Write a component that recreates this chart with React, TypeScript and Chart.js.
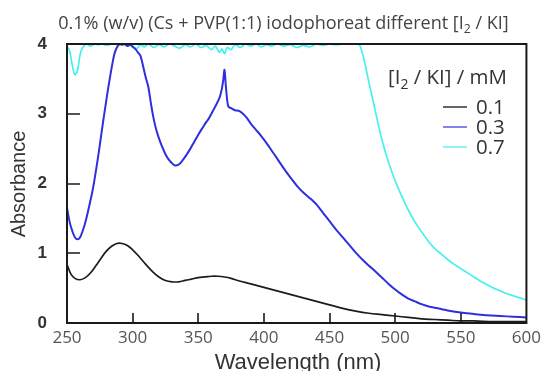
import React, { useEffect, useRef } from "react";
import { Chart, registerables } from "chart.js";
Chart.register(...registerables);

// ---- data ----
const blackWl = [250, 253, 256, 260, 264, 268, 272, 276, 280, 284, 288, 292, 296, 300, 305, 310, 315, 320, 325, 330, 335, 340, 345, 350, 355, 360, 365, 370, 375, 380, 390, 400, 410, 420, 430, 440, 450, 460, 470, 480, 490, 500, 510, 520, 530, 540, 550, 560, 575, 600];
const blackAbs = [0.84, 0.7, 0.64, 0.62, 0.65, 0.72, 0.82, 0.93, 1.03, 1.1, 1.14, 1.14, 1.11, 1.05, 0.95, 0.84, 0.74, 0.66, 0.61, 0.59, 0.59, 0.61, 0.63, 0.65, 0.66, 0.67, 0.67, 0.66, 0.64, 0.61, 0.56, 0.51, 0.46, 0.41, 0.36, 0.31, 0.26, 0.21, 0.17, 0.14, 0.12, 0.1, 0.08, 0.06, 0.05, 0.04, 0.03, 0.03, 0.02, 0.02];

const blueWl = [250, 252, 254, 256, 258, 260, 263, 266, 270, 274, 277, 280, 283, 286, 288, 290, 292, 294, 296, 298, 300, 302, 304, 306, 308, 310, 312, 314, 316, 318, 320, 322, 325, 328, 332, 335, 338, 341, 344, 347, 350, 353, 356, 358, 360, 362, 364, 366, 367, 368, 369, 370, 371, 372, 373, 375, 378, 381, 384, 387, 390, 394, 398, 402, 406, 410, 415, 420, 425, 430, 435, 440, 445, 450, 455, 460, 465, 470, 475, 480, 485, 490, 495, 500, 505, 510, 515, 520, 525, 530, 535, 540, 550, 560, 570, 580, 590, 600];
const blueAbs = [1.65, 1.45, 1.32, 1.23, 1.2, 1.23, 1.38, 1.6, 1.95, 2.42, 2.82, 3.2, 3.55, 3.85, 3.95, 4.0, 3.99, 4.0, 3.97, 3.99, 3.96, 3.93, 3.88, 3.83, 3.68, 3.52, 3.38, 3.14, 2.93, 2.77, 2.65, 2.55, 2.42, 2.33, 2.26, 2.27, 2.33, 2.41, 2.5, 2.6, 2.7, 2.79, 2.88, 2.93, 3.0, 3.07, 3.14, 3.22, 3.28, 3.36, 3.48, 3.63, 3.4, 3.2, 3.1, 3.08, 3.05, 3.04, 3.0, 2.94, 2.86, 2.77, 2.68, 2.58, 2.47, 2.36, 2.22, 2.09, 1.97, 1.87, 1.79, 1.7, 1.58, 1.46, 1.34, 1.23, 1.12, 1.01, 0.91, 0.82, 0.74, 0.65, 0.56, 0.48, 0.41, 0.35, 0.31, 0.27, 0.24, 0.22, 0.2, 0.18, 0.15, 0.13, 0.11, 0.1, 0.09, 0.08];

const cyanWl = [250, 252, 254, 256, 258, 260, 262, 265, 268, 271, 274, 277, 280, 284, 288, 292, 296, 300, 303, 306, 309, 312, 316, 320, 324, 328, 332, 336, 340, 344, 348, 352, 356, 360, 363, 366, 368, 370, 372, 375, 378, 382, 386, 390, 394, 398, 402, 406, 410, 415, 420, 425, 430, 435, 440, 445, 450, 455, 460, 465, 470, 473, 476, 478, 480, 483, 487, 490, 495, 500, 505, 510, 515, 520, 525, 530, 535, 540, 545, 550, 555, 560, 565, 570, 575, 580, 585, 590, 595, 600];
const cyanAbs = [3.97, 3.9, 3.7, 3.56, 3.62, 3.85, 3.95, 4.0, 3.97, 4.0, 3.99, 4.0, 3.98, 4.0, 4.0, 3.99, 4.0, 3.97, 3.93, 3.99, 3.96, 4.0, 3.95, 3.99, 3.96, 4.0, 3.97, 3.94, 3.99, 3.96, 4.0, 3.95, 3.98, 3.92, 3.97, 3.88, 3.93, 3.86, 3.95, 3.92, 3.99, 3.95, 4.0, 3.97, 4.0, 3.96, 3.99, 3.97, 4.0, 3.97, 3.99, 3.95, 3.98, 3.96, 4.0, 3.98, 4.0, 3.99, 4.0, 4.0, 4.0, 3.98, 3.8, 3.63, 3.45, 3.2, 2.86, 2.62, 2.3, 2.04, 1.82, 1.62, 1.45, 1.31, 1.18, 1.07, 0.99, 0.91, 0.84, 0.78, 0.72, 0.66, 0.6, 0.55, 0.5, 0.46, 0.42, 0.39, 0.36, 0.33];

const seriesLabels = ["0.1", "0.3", "0.7"];
const seriesColors = ["#1c1c1c", "#2f2fe0", "#44f0f0"];
const legendColors = ["#333333", "#5a5ae0", "#66f0f0"];
const xTickValues = [250, 300, 350, 400, 450, 500, 550, 600];
const yTickValues = [0, 1, 2, 3, 4];
const titleParts: [string, boolean][] = [["0.1% (w/v) (Cs + PVP(1:1) iodophoreat different [I", false], ["2", true], [" / KI]", false]];
const legendTitleParts: [string, boolean][] = [["[I", false], ["2", true], [" / KI] / mM", false]];
const xTitle = "Wavelength (nm)";
const yTitle = "Absorbance";

function pts(wl: number[], a: number[]) {
  return wl.map((w, i) => ({ x: w, y: a[i] }));
}

function measureParts(ctx: CanvasRenderingContext2D, parts: [string, boolean][], family: string, size: number) {
  let total = 0;
  parts.forEach(([t, sub]) => {
    ctx.font = `${sub ? size * 0.68 : size}px ${family}`;
    total += ctx.measureText(t).width;
  });
  return total;
}

function drawParts(ctx: CanvasRenderingContext2D, parts: [string, boolean][], family: string, size: number, x: number, y: number, align: "left" | "center") {
  const total = measureParts(ctx, parts, family, size);
  let cx = align === "center" ? x - total / 2 : x;
  ctx.textAlign = "left";
  ctx.textBaseline = "alphabetic";
  parts.forEach(([t, sub]) => {
    const s = sub ? size * 0.68 : size;
    ctx.font = `${s}px ${family}`;
    ctx.fillText(t, cx, sub ? y + size * 0.22 : y);
    cx += ctx.measureText(t).width;
  });
}

const decor = {
  id: "decor",
  afterDraw(chart: any) {
    const { ctx, chartArea: ca, scales } = chart;
    const xs = scales.x;
    const ys = scales.y;
    ctx.save();
    // frame
    ctx.strokeStyle = "#1a1a1a";
    ctx.lineWidth = 2;
    ctx.strokeRect(ca.left, ca.top, ca.right - ca.left, ca.bottom - ca.top);
    // inward ticks
    ctx.lineWidth = 1.6;
    ctx.beginPath();
    xTickValues.slice(1, -1).forEach((v) => {
      const px = Math.round(xs.getPixelForValue(v));
      ctx.moveTo(px, ca.bottom);
      ctx.lineTo(px, ca.bottom - 10);
    });
    yTickValues.slice(1, -1).forEach((v) => {
      const py = Math.round(ys.getPixelForValue(v));
      ctx.moveTo(ca.left, py);
      ctx.lineTo(ca.left + 13, py);
    });
    ctx.stroke();

    // title (fit to reference width)
    ctx.fillStyle = "#444444";
    const tFam = '"Open Sans"';
    const tw = measureParts(ctx, titleParts, tFam, 16);
    const tSize = 16 * (451 / tw);
    drawParts(ctx, titleParts, tFam, tSize, 283.5, 29, "center");

    // axis titles
    ctx.fillStyle = "#333333";
    ctx.textAlign = "center";
    ctx.textBaseline = "middle";
    ctx.font = '22px "Liberation Sans"';
    ctx.fillText(xTitle, 298, 363);
    ctx.font = '20px "Liberation Sans"';
    ctx.save();
    ctx.translate(19, 184);
    ctx.rotate(-Math.PI / 2);
    ctx.fillText(yTitle, 0, 0);
    ctx.restore();

    // legend
    ctx.fillStyle = "#333333";
    const lw = measureParts(ctx, legendTitleParts, tFam, 16);
    const lSize = 16 * (119 / lw);
    drawParts(ctx, legendTitleParts, tFam, lSize, 388, 84, "left");
    const rows = [107, 127, 147];
    seriesLabels.forEach((lab, i) => {
      ctx.strokeStyle = legendColors[i];
      ctx.lineWidth = 1.5;
      ctx.beginPath();
      ctx.moveTo(443, rows[i]);
      ctx.lineTo(467, rows[i]);
      ctx.stroke();
      ctx.fillStyle = "#333333";
      ctx.font = `${lSize}px ${tFam}`;
      ctx.textAlign = "left";
      ctx.textBaseline = "middle";
      ctx.fillText(lab, 476, rows[i] + 1);
    });
    ctx.restore();
  },
};

export default function App() {
  const ref = useRef<HTMLCanvasElement>(null);
  useEffect(() => {
    document.body.style.margin = "0";
    const chart = new Chart(ref.current as HTMLCanvasElement, {
      type: "line",
      data: {
        datasets: [
          { label: seriesLabels[0], data: pts(blackWl, blackAbs), borderColor: seriesColors[0], borderWidth: 1.7, pointRadius: 0, tension: 0.4, fill: false },
          { label: seriesLabels[1], data: pts(blueWl, blueAbs), borderColor: seriesColors[1], borderWidth: 2, pointRadius: 0, tension: 0.3, fill: false },
          { label: seriesLabels[2], data: pts(cyanWl, cyanAbs), borderColor: seriesColors[2], borderWidth: 1.7, pointRadius: 0, tension: 0.3, fill: false },
        ],
      },
      options: {
        animation: false,
        responsive: false,
        devicePixelRatio: 1,
        layout: { padding: { left: 0, right: 17, top: 44, bottom: 0 } },
        plugins: { legend: { display: false }, title: { display: false }, tooltip: { enabled: false } },
        scales: {
          x: {
            type: "linear",
            min: 250,
            max: 600,
            afterFit: (s: any) => { s.height = 48; },
            afterBuildTicks: (s: any) => { s.ticks = xTickValues.map((v) => ({ value: v })); },
            ticks: { font: { family: '"Open Sans"', size: 17 }, color: "#555555", padding: 5, maxRotation: 0 },
            grid: { display: true, drawOnChartArea: false, drawTicks: false, color: "rgba(0,0,0,0)" },
            border: { display: false },
          },
          y: {
            type: "linear",
            min: 0,
            max: 4,
            afterFit: (s: any) => { s.width = 67; },
            afterBuildTicks: (s: any) => { s.ticks = yTickValues.map((v) => ({ value: v })); },
            ticks: { font: { family: '"Liberation Sans"', size: 17, weight: "bold" }, color: "#333333", padding: 20 },
            grid: { display: true, drawOnChartArea: false, drawTicks: false, color: "rgba(0,0,0,0)" },
            border: { display: false },
          },
        },
      },
      plugins: [decor],
    } as any);
    return () => chart.destroy();
  }, []);
  return (
    <div style={{ position: "fixed", left: 0, top: 0, width: 546, height: 371, background: "#fff" }}>
      <canvas ref={ref} width={546} height={371} />
    </div>
  );
}
